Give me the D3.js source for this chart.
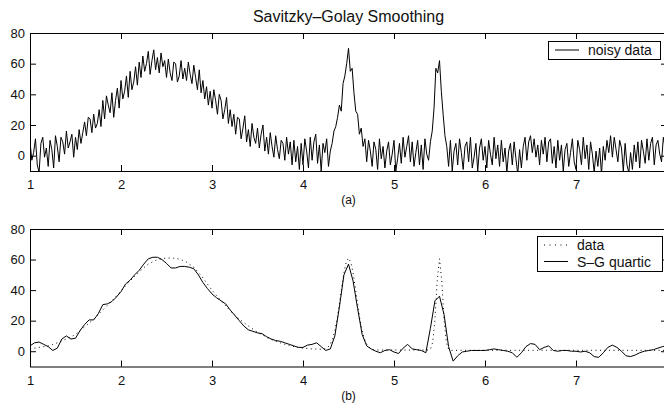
<!DOCTYPE html>
<html>
<head>
	<title>Savitzky-Golay Smoothing</title>
	<script src="https://d3js.org/d3.v7.min.js"></script>
	<style type="text/css">
		body { margin:0; background:#fff; }
		svg { display:block; }
		text { font-family:"Liberation Sans", Arial, sans-serif; fill:#111; }
		.axis text { font-size:13px; }
		.axis line { stroke:#000; }
		.axis path { display:none; }
	</style>
</head>
<body>
<script type="text/javascript">

	// x axis runs 1..8, every series starts at x = 1
	var xStart = 1;
	var xTicks = [1, 2, 3, 4, 5, 6, 7, 8];
	var yTicks = [0, 20, 40, 60, 80];

	// panel (a): noisy samples, one every 0.02
	var noisyStep = 0.02;
	var noisyData = [
		9, -3, 2, 11, -6,      -11, 8, 12, -1, 5,       -7, 10, 4, -8, 13,     6, -4, 12, 9, 1,
		16, 5, 9, 14, -1,      12, 4, 17, 8, 15,        22, 13, 25, 24, 15,    27, 18, 21, 30, 19,
		36, 24, 39, 33, 28,    41, 25, 36, 44, 31,      49, 37, 42, 52, 38,    55, 43, 48, 58, 46,
		61, 51, 65, 55, 60,    68, 53, 62, 69, 56,      64, 54, 67, 58, 62,    51, 63, 54, 49, 61,
		60, 48, 52, 62, 50,    57, 49, 61, 53, 47,      59, 51, 43, 56, 41,    49, 37, 45, 33, 42,
		31, 43, 36, 27, 40,    36, 24, 30, 38, 21,      30, 19, 27, 14, 25,    24, 11, 18, 26, 9,
		17, 6, 21, 12, 8,      18, 5, 14, 20, 3,        12, 1, 15, 6, -1,      13, 4, -2, 10, 8,
		-3, 12, 1, 9, -6,      10, -4, 6, -9, 8,        -6, 11, 3, -8, 12,     -3, 9, 14, -5, 7,
		-10, 8, 2, 11, -7,     3, 8, 16, 19, 25,        33, 29, 47, 52, 60,    70, 55, 57, 41, 29,
		27, 14, 18, 6, 11,     -4, 10, 3, -7, 9,        4, -9, 11, -2, 6,      -8, 3, 9, -6, 1,
		10, -10, -2, 8, -5,    12, -1, 6, 13, -4,       9, -7, 2, 10, -6,      7, -9, 11, 1, -3,
		9, 16, 31, 57, 54,     62, 42, 27, 13, 6,       -7, 10, -10, 3, 8,     -6, 11, 2, -9, 6,
		9, -4, 12, -8, -1,     8, -10, 5, 11, -3,       6, -8, 10, 1, -6,      12, -2, 7, -7, 10,
		-4, 5, -11, 3, 8,      -6, 9, -2, -12, 4,       -8, 6, 12, -3, 9,      13, 2, 11, -1, 7,
		-6, 10, 1, 12, -4,     9, 11, -5, 6, -8,        10, -3, 7, -10, 4,     8, -7, 2, 11, -4,
		-9, 10, 4, -6, 12,     -2, 7, -9, 9, 1,         -11, 3, -7, 5, -12,    6, -3, 10, 2, 13,
		-1, 12, 4, -4, 10,     5, -10, 8, -6, -11,      2, -9, 7, -4, 9,       -8, 10, 3, -5, 11,
		-3, 8, 12, -6, 7,      10, 1, -4, 12, 5,
		9
	];

	// panel (b): clean signal, one every 0.025
	var dataStep = 0.025;
	var cleanData = [
		1.5, 1.7, 2.0, 2.2,   2.5, 2.7, 3.0, 3.2,   3.5, 4.0, 4.5, 5.0,   5.5, 6.1, 6.8, 7.4,
		8.0, 8.7, 9.5, 10.2,  11.0, 12.2, 13.5, 14.7, 16.0, 17.2, 18.5, 19.7, 21.0, 22.5, 24.0, 25.5,
		27.0, 28.5, 30.0, 31.5, 33.0, 34.6, 36.2, 37.9, 39.5, 41.1, 42.7, 44.4, 46.0, 47.5, 49.0, 50.5,
		52.0, 53.3, 54.6, 55.8, 57.0, 57.8, 58.6, 59.3, 60.0, 60.3, 60.6, 60.8, 61.0, 61.0, 61.0, 60.9,
		60.8, 60.5, 60.0, 59.5, 59.0, 58.1, 57.0, 56.0, 55.0, 53.3, 51.5, 49.8, 48.0, 46.0, 44.0, 42.0,
		40.0, 38.2, 36.5, 34.7, 33.0, 31.4, 29.8, 28.1, 26.5, 25.1, 23.8, 22.4, 21.0, 19.9, 18.8, 17.6,
		16.5, 15.5, 14.5, 13.5, 12.5, 11.6, 10.8, 9.9, 9.0, 8.4, 7.7, 7.1, 6.5, 6.0, 5.5, 5.0,
		4.5, 4.1, 3.8, 3.4,   3.0, 2.8, 2.5, 2.3,   2.0, 1.9, 1.8, 1.6,   1.5, 1.5, 1.4, 1.4,
		1.3, 1.4, 1.6, 2.6,   4.7, 8.0, 13.6, 21.0, 31.0, 41.5, 51.5, 58.4, 61.0, 58.4, 51.5, 41.5,
		31.0, 21.0, 13.6, 8.0, 4.7, 2.7, 1.5, 1.0,  0.8, 0.8, 0.8, 0.8,   0.8, 0.8, 0.8, 0.8,
		0.8, 0.8, 0.8, 0.8,   0.8, 0.8, 0.8, 0.8,   0.8, 0.8, 0.8, 0.8,   0.8, 0.8, 0.8, 0.8,
		1.3, 5.7, 20.8, 46.0, 60.5, 46.0, 20.8, 5.7, 1.3, 0.6, 0.6, 0.6,  0.6, 0.6, 0.6, 0.6,
		0.6, 0.6, 0.6, 0.6,   0.6, 0.6, 0.6, 0.6,   0.6, 0.6, 0.6, 0.6,   0.6, 0.6, 0.6, 0.6,
		0.6, 0.6, 0.6, 0.6,   0.6, 0.6, 0.6, 0.6,   0.6, 0.6, 0.6, 0.6,   0.6, 0.6, 0.6, 0.6,
		0.6, 0.6, 0.6, 0.6,   0.6, 0.6, 0.6, 0.6,   0.6, 0.6, 0.6, 0.6,   0.6, 0.6, 0.6, 0.6,
		0.6, 0.6, 0.6, 0.6,   0.6, 0.6, 0.6, 0.6,   0.6, 0.6, 0.6, 0.6,   0.6, 0.6, 0.6, 0.6,
		0.6, 0.6, 0.6, 0.6,   0.6, 0.6, 0.6, 0.6,   0.6, 0.6, 0.6, 0.6,   0.6, 0.6, 0.6, 0.6,
		0.6, 0.6, 0.6, 0.6,   0.6, 0.6, 0.6, 0.6,
		0.6
	];

	// panel (b): S-G quartic smoothed, one every 0.05
	var sgStep = 0.05;
	var sgQuartic = [
		3.5, 5.5, 6, 4.5, 3, 0.5, 2, 8, 10, 8,
		8.5, 13.5, 17.5, 20.5, 20.5, 24.5, 30.5, 31, 32.5, 35.5,
		39, 44, 46.5, 50, 53, 57, 60.5, 61.5, 61.5, 60,
		57.5, 54.5, 54.5, 55.5, 55.5, 55, 54, 50, 45, 41,
		37.5, 35, 33, 31, 27, 23.5, 20, 16.5, 14, 13,
		12, 11.5, 9.5, 8, 7, 6.5, 5.5, 4.5, 3.5, 2.5,
		2.5, 4, 4.5, 5.5, 3, 0.5, 1.5, 10, 29, 50,
		57, 46, 28, 11, 3.5, 1.5, 0, -1, 0.5, 1,
		-0.5, -1.5, 2, 4.5, 1.5, 1, 0.5, -1, 15, 33,
		36, 24, 3, -6.5, -3, -0.5, 0, 0.5, 0.5, 0.5,
		0.5, 1, 1.5, 1, 0.5, 0, -1, -4, -1, 3,
		5, 4.5, 1, 2.5, 3.5, 0.5, 0, 0.5, 0.5, 0,
		0, -0.5, 0, -1, -3.5, -4, -1, 2.5, 4, 2.5,
		0, -3, -3.5, -2.5, -1, 0, 0.5, 1, 2, 3,
		3.5
	];

	var w = 664, h = 405;
	var left = 30, right = 667;

	function toPoints(vals, step) {
		return vals.map(function(v, i){ return [xStart + i * step, v]; });
	}

	var svg = d3.select("body").append("svg")
		.attr("width", w)
		.attr("height", h);

	var x = d3.scaleLinear().domain([1, 8]).range([left, right]);

	// title
	svg.append("text")
		.attr("x", (left + right) / 2)
		.attr("y", 22)
		.attr("text-anchor", "middle")
		.style("font-size", "16px")
		.text("Savitzky\u2013Golay Smoothing");

	// one MATLAB style panel: box, inward ticks on all sides, clipped lines
	function panel(id, top, bottom, caption) {
		var y = d3.scaleLinear().domain([-10, 80]).range([bottom, top]);
		var g = svg.append("g");

		g.append("clipPath").attr("id", id)
			.append("rect")
				.attr("x", left).attr("y", top)
				.attr("width", right - left).attr("height", bottom - top);

		g.append("g").attr("class", "axis")
			.attr("transform", "translate(0," + bottom + ")")
			.call(d3.axisBottom(x).tickValues(xTicks).tickSize(-6).tickSizeOuter(0).tickPadding(9).tickFormat(d3.format("d")));
		g.append("g").attr("class", "axis")
			.attr("transform", "translate(0," + top + ")")
			.call(d3.axisTop(x).tickValues(xTicks).tickSize(-6).tickSizeOuter(0).tickFormat(""));
		g.append("g").attr("class", "axis")
			.attr("transform", "translate(" + left + ",0)")
			.call(d3.axisLeft(y).tickValues(yTicks).tickSize(-6).tickSizeOuter(0).tickPadding(5));
		g.append("g").attr("class", "axis")
			.attr("transform", "translate(" + right + ",0)")
			.call(d3.axisRight(y).tickValues(yTicks).tickSize(-6).tickSizeOuter(0).tickFormat(""));

		g.append("rect")
			.attr("x", left + 0.5).attr("y", top + 0.5)
			.attr("width", right - left).attr("height", bottom - top)
			.attr("fill", "none").attr("stroke", "#000");

		svg.append("text")
			.attr("x", (left + right) / 2)
			.attr("y", bottom + 33)
			.attr("text-anchor", "middle")
			.style("font-size", "12px")
			.text(caption);

		return {g: g, y: y, clip: "url(#" + id + ")"};
	}

	function drawLine(p, pts, dash) {
		var line = d3.line()
			.x(function(d){ return x(d[0]); })
			.y(function(d){ return p.y(d[1]); });
		p.g.append("path")
			.datum(pts)
			.attr("clip-path", p.clip)
			.attr("fill", "none")
			.attr("stroke", "#000")
			.attr("stroke-width", 1)
			.attr("stroke-dasharray", dash || null)
			.attr("d", line);
	}

	function legend(rows, bx, by, bw, bh) {
		var g = svg.append("g");
		g.append("rect")
			.attr("x", bx + 0.5).attr("y", by + 0.5)
			.attr("width", bw).attr("height", bh)
			.attr("fill", "#fff").attr("stroke", "#000");
		rows.forEach(function(r, i){
			var cy = by + 9 + i * 16.5;
			g.append("line")
				.attr("x1", bx + 7).attr("x2", bx + 31)
				.attr("y1", cy).attr("y2", cy)
				.attr("stroke", "#000")
				.attr("stroke-dasharray", r.dash || null);
			g.append("text")
				.attr("x", bx + 40).attr("y", cy + 5)
				.style("font-size", "14px")
				.text(r.name);
		});
	}

	// panel (a)
	var pa = panel("clipA", 33, 171, "(a)");
	drawLine(pa, toPoints(noisyData, noisyStep));
	legend([{name: "noisy data"}], 548, 41, 112, 18);

	// panel (b)
	var pb = panel("clipB", 229, 366.5, "(b)");
	drawLine(pb, toPoints(cleanData, dataStep), "1,3.5");
	drawLine(pb, toPoints(sgQuartic, sgStep));
	legend([{name: "data", dash: "1,4.5"}, {name: "S\u2013G quartic"}], 537, 236, 125, 35);

</script>
</body>
</html>
